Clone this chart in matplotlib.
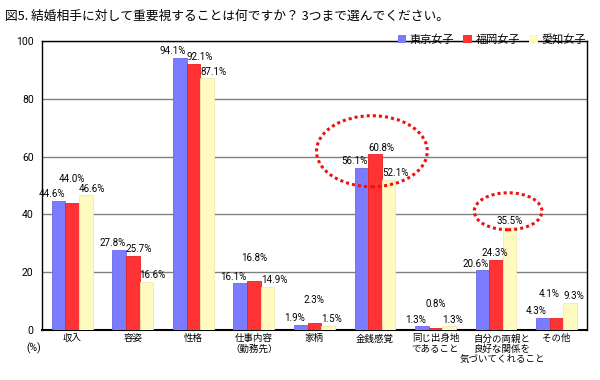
import matplotlib
matplotlib.use("Agg")
import matplotlib.pyplot as plt
import matplotlib.transforms as mtransforms
import numpy as np
from matplotlib.patches import Ellipse, Patch

plt.rcParams["font.family"] = ["Noto Sans CJK JP", "DejaVu Sans"]
NUM_FONT = ["Roboto", "DejaVu Sans"]

TITLE = "図5. 結婚相手に対して重要視することは何ですか？ 3つまで選んでください。"
CATEGORIES = [
    "収入", "容姿", "性格", "仕事内容\n（勤務先）", "家柄", "金銭感覚",
    "同じ出身地\nであること", "自分の両親と\n良好な関係を\n気づいてくれること", "その他",
]
SERIES = ["東京女子", "福岡女子", "愛知女子"]
TOKYO = [44.6, 27.8, 94.1, 16.1, 1.9, 56.1, 1.3, 20.6, 4.3]
FUKUOKA = [44.0, 25.7, 92.1, 16.8, 2.3, 60.8, 0.8, 24.3, 4.1]
AICHI = [46.6, 16.6, 87.1, 14.9, 1.5, 52.1, 1.3, 35.5, 9.3]
YTICKS = [0, 20, 40, 60, 80, 100]

COLORS = ["#7b7bff", "#ff3333", "#fffac0"]
EDGES = ["#6a6ae8", "#e82020", "#f0eab0"]
# red labels raised where they would collide with neighbouring labels
RAISE_RED = [True, False, False, True, True, False, True, False, True]
# small sideways nudges (category units) for a few crowded labels
NUDGE = {(1, 7): -0.12, (1, 8): -0.12, (2, 7): -0.1}

fig = plt.figure(figsize=(6, 3.8), dpi=100)
ax = fig.add_axes([0.07, 0.1316, 0.908, 0.76])

x = np.arange(len(CATEGORIES))
width = 0.225
values = [TOKYO, FUKUOKA, AICHI]
label_size = 7

for k, vals in enumerate(values):
    pos = x + (k - 1) * width
    ax.bar(pos, vals, width, color=COLORS[k], edgecolor=EDGES[k], linewidth=0.6, zorder=3)
    for i, v in enumerate(vals):
        dx = NUDGE.get((k, i), 0)
        if k == 0:
            tx, ha, lift = pos[i] - 0.11, "center", 0.6
        elif k == 1 and RAISE_RED[i]:
            tx, ha, lift = pos[i], "center", 6.5
        else:
            tx, ha, lift = pos[i] - width / 2, "left", 0.6
        ax.text(tx + dx, v + lift, f"{v:.1f}%", ha=ha, va="bottom",
                fontsize=label_size, family=NUM_FONT, zorder=5)

ax.add_patch(Ellipse((4.95, 61.9), 1.83, 24.6, fill=False, edgecolor="#ee1111",
                     linewidth=2.2, linestyle=(0, (1, 1)), zorder=6))
ax.add_patch(Ellipse((7.2, 41.1), 1.12, 12.8, fill=False, edgecolor="#ee1111",
                     linewidth=2.2, linestyle=(0, (1, 1)), zorder=6))

ax.set_xlim(-0.5, len(CATEGORIES) - 0.5)
ax.set_ylim(0, 100)
ax.set_yticks(YTICKS)
ax.set_yticklabels([str(t) for t in YTICKS], fontsize=7.5, family=NUM_FONT)
ax.set_xticks(x)
ax.set_xticklabels(CATEGORIES, fontsize=6.8, linespacing=1.1)
ax.tick_params(axis="x", length=0, pad=3)
ax.tick_params(axis="y", length=0, pad=6)
# the long three-line label sits a little right of its slot, as in the source
long_label = ax.get_xticklabels()[7]
long_label.set_transform(long_label.get_transform()
                         + mtransforms.ScaledTranslation(0.06, 0, fig.dpi_scale_trans))
ax.grid(axis="y", color="#808080", linewidth=1, zorder=0)
ax.set_axisbelow(True)
for side in ["left", "right", "top"]:
    ax.spines[side].set_linewidth(1)
    ax.spines[side].set_color("black")
ax.spines["bottom"].set_linewidth(1.5)

fig.text(0.056, 0.1, "(%)", fontsize=7.5, family=NUM_FONT, ha="center", va="top")
fig.text(0.008, 0.975, TITLE, fontsize=9.2, ha="left", va="top")

handles = [Patch(facecolor=c, edgecolor="none") for c in COLORS]
fig.legend(handles, SERIES, loc="upper right", bbox_to_anchor=(0.985, 0.925), ncol=3,
           frameon=False, fontsize=8, handlelength=0.8, handleheight=0.8,
           handletextpad=0.3, columnspacing=0.8, borderpad=0)

fig.savefig("out.png", dpi=100)
